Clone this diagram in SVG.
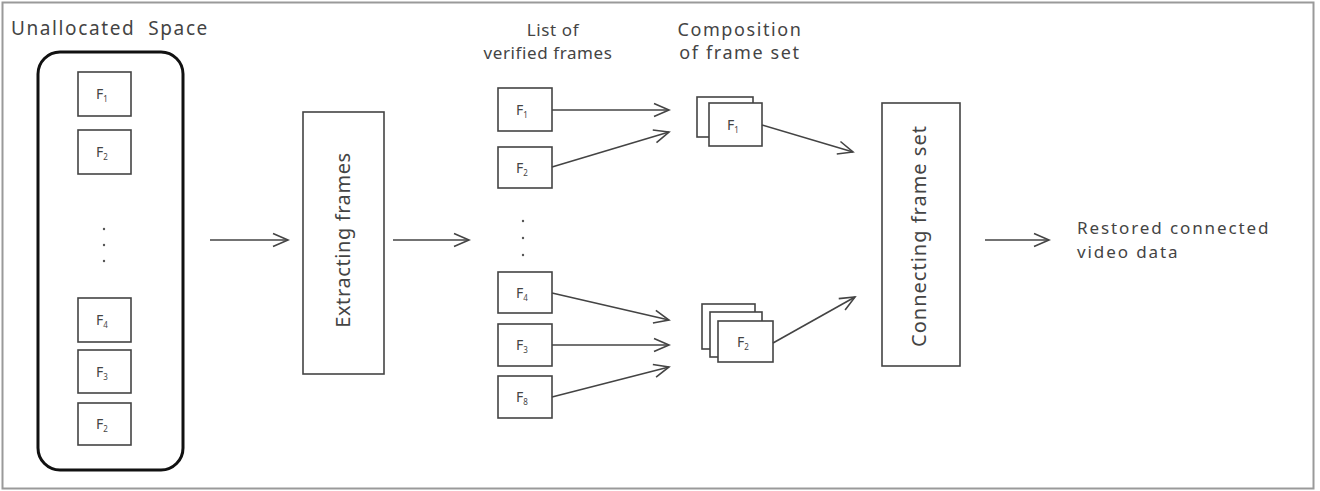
<svg xmlns="http://www.w3.org/2000/svg" width="1320" height="491" viewBox="0 0 1320 491">
<style>
.t{font-family:"Noto Sans","Open Sans",sans-serif;fill:#444}
.f{font-size:14px;text-anchor:middle}
.sub{font-size:8px}
.box{fill:#fff;stroke:#444;stroke-width:1.6}
.c{stroke:#444;stroke-width:1.6;fill:none;marker-end:url(#ah)}
</style>
<defs>
<marker id="ah" markerUnits="userSpaceOnUse" markerWidth="20" markerHeight="16" viewBox="-16 -8 20 16" refX="0" refY="0" orient="auto">
<path d="M-15,-6.5 L0,0 L-15,6.5" fill="none" stroke="#444" stroke-width="1.6"/>
</marker>
</defs>
<rect x="0" y="0" width="1320" height="491" fill="#fff"/>
<rect x="2.5" y="2.5" width="1311" height="486" fill="none" stroke="#9a9a9a" stroke-width="2"/>

<g id="unallocated">
<text class="t" font-size="19" letter-spacing="1.6" x="11" y="35" xml:space="preserve">Unallocated  Space</text>
<rect x="38" y="52" width="145" height="418" rx="22" fill="#fff" stroke="#111" stroke-width="3"/>
<rect class="box" x="78" y="72" width="53" height="44"/>
<text class="t f" x="102" y="99">F<tspan class="sub" dy="3">1</tspan></text>
<rect class="box" x="78" y="130" width="53" height="44"/>
<text class="t f" x="102" y="157">F<tspan class="sub" dy="3">2</tspan></text>
<circle cx="104" cy="229" r="1.2" fill="#555"/>
<circle cx="104" cy="245" r="1.2" fill="#555"/>
<circle cx="104" cy="261" r="1.2" fill="#555"/>
<rect class="box" x="78" y="298" width="53" height="44"/>
<text class="t f" x="102" y="325">F<tspan class="sub" dy="3">4</tspan></text>
<rect class="box" x="78" y="350" width="53" height="43"/>
<text class="t f" x="102" y="377">F<tspan class="sub" dy="3">3</tspan></text>
<rect class="box" x="78" y="403" width="53" height="42"/>
<text class="t f" x="102" y="429">F<tspan class="sub" dy="3">2</tspan></text>
</g>

<g id="extracting">
<rect class="box" x="303" y="112" width="81" height="262"/>
<text class="t" font-size="20" letter-spacing="0.6" text-anchor="middle" transform="translate(350,240) rotate(-90)">Extracting frames</text>
</g>

<g id="verified">
<text class="t" font-size="17" letter-spacing="0.6" x="553" y="36" text-anchor="middle">List of</text>
<text class="t" font-size="17" letter-spacing="0.6" x="548" y="59" text-anchor="middle">verified frames</text>
<rect class="box" x="498" y="88" width="54" height="43"/>
<text class="t f" x="522" y="115">F<tspan class="sub" dy="3">1</tspan></text>
<rect class="box" x="498" y="147" width="54" height="41"/>
<text class="t f" x="522" y="173">F<tspan class="sub" dy="3">2</tspan></text>
<circle cx="523" cy="221" r="1.2" fill="#555"/>
<circle cx="523" cy="238" r="1.2" fill="#555"/>
<circle cx="523" cy="255" r="1.2" fill="#555"/>
<rect class="box" x="498" y="272" width="54" height="41"/>
<text class="t f" x="522" y="298">F<tspan class="sub" dy="3">4</tspan></text>
<rect class="box" x="498" y="324" width="54" height="42"/>
<text class="t f" x="522" y="350">F<tspan class="sub" dy="3">3</tspan></text>
<rect class="box" x="498" y="376" width="54" height="42"/>
<text class="t f" x="522" y="402">F<tspan class="sub" dy="3">8</tspan></text>
</g>

<g id="composition">
<text class="t" font-size="18" letter-spacing="1.6" x="740" y="36" text-anchor="middle">Composition</text>
<text class="t" font-size="18" letter-spacing="1.6" x="740" y="59" text-anchor="middle">of frame set</text>
<rect class="box" x="697" y="97" width="56" height="40"/>
<rect class="box" x="709" y="103" width="53" height="43"/>
<text class="t f" x="733" y="130">F<tspan class="sub" dy="3">1</tspan></text>
<rect class="box" x="702" y="304" width="53" height="45"/>
<rect class="box" x="710" y="312" width="52" height="45"/>
<rect class="box" x="718" y="321" width="55" height="41"/>
<text class="t f" x="743" y="347">F<tspan class="sub" dy="3">2</tspan></text>
</g>

<g id="connecting">
<rect class="box" x="882" y="103" width="78" height="263"/>
<text class="t" font-size="20" letter-spacing="1" text-anchor="middle" transform="translate(926,236) rotate(-90)">Connecting frame set</text>
</g>

<g id="restored">
<text class="t" font-size="17" letter-spacing="1.9" x="1077" y="234">Restored connected</text>
<text class="t" font-size="17" letter-spacing="1.9" x="1077" y="258">video data</text>
</g>

<g id="connectors">
<line class="c" x1="210" y1="240" x2="288" y2="240"/>
<line class="c" x1="393" y1="240" x2="469" y2="240"/>
<line class="c" x1="552" y1="110" x2="669" y2="110"/>
<line class="c" x1="552" y1="167" x2="669" y2="132"/>
<line class="c" x1="762" y1="125" x2="853" y2="152"/>
<line class="c" x1="552" y1="293" x2="669" y2="320"/>
<line class="c" x1="552" y1="345" x2="669" y2="345"/>
<line class="c" x1="552" y1="397" x2="669" y2="367"/>
<line class="c" x1="773" y1="343" x2="855" y2="297"/>
<line class="c" x1="985" y1="240" x2="1049" y2="240"/>
</g>
</svg>
